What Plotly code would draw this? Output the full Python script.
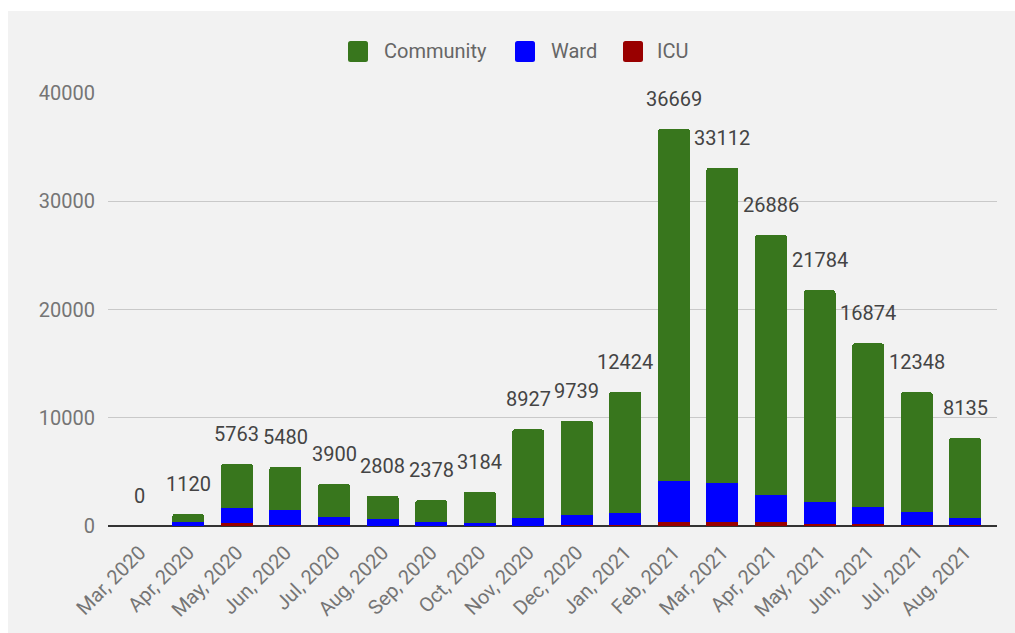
import plotly.graph_objects as go

# Monthly admissions split by care setting
months = ["Mar, 2020", "Apr, 2020", "May, 2020", "Jun, 2020", "Jul, 2020", "Aug, 2020",
          "Sep, 2020", "Oct, 2020", "Nov, 2020", "Dec, 2020", "Jan, 2021", "Feb, 2021",
          "Mar, 2021", "Apr, 2021", "May, 2021", "Jun, 2021", "Jul, 2021", "Aug, 2021"]
community = [0, 720, 4128, 4000, 3040, 2188, 1978, 2934, 8217, 8724, 11254, 32509,
             29112, 24021, 19539, 15089, 11028, 7425]
ward = [0, 360, 1385, 1400, 810, 580, 370, 230, 670, 955, 1090, 3760,
        3600, 2525, 2045, 1555, 1200, 650]
icu = [0, 40, 250, 80, 50, 40, 30, 20, 40, 60, 80, 400,
       400, 340, 200, 230, 120, 60]
y_ticks = [0, 10000, 20000, 30000, 40000]

totals = [c + w + i for c, w, i in zip(community, ward, icu)]

GREEN = "#38761d"
BLUE = "#0000ff"
RED = "#990000"
FONT = "Roboto"

# plot area in pixels
L, R, T, B = 108, 997, 93, 526
W, H = 1015, 633


def px_x(px):
    return (px - L) / (R - L)


def px_y(py):
    return (B - py) / (B - T)


fig = go.Figure()
for name, vals, color in [("ICU", icu, RED), ("Ward", ward, BLUE), ("Community", community, GREEN)]:
    fig.add_trace(go.Bar(x=months, y=vals, name=name, marker_color=color,
                         marker_line_width=0, width=0.66, showlegend=False))

annotations = []
for m, t in zip(months, totals):
    annotations.append(dict(x=m, y=t, text=str(t), showarrow=False, yshift=30,
                            font=dict(family=FONT, size=20, color="#444444")))

# legend drawn by hand: rounded swatches + labels
def rounded_rect(x0, y0, x1, y1, r):
    X = lambda p: px_x(p)
    Y = lambda p: px_y(p)
    return (f"M {X(x0 + r)},{Y(y0)} L {X(x1 - r)},{Y(y0)} Q {X(x1)},{Y(y0)} {X(x1)},{Y(y0 + r)} "
            f"L {X(x1)},{Y(y1 - r)} Q {X(x1)},{Y(y1)} {X(x1 - r)},{Y(y1)} "
            f"L {X(x0 + r)},{Y(y1)} Q {X(x0)},{Y(y1)} {X(x0)},{Y(y1 - r)} "
            f"L {X(x0)},{Y(y0 + r)} Q {X(x0)},{Y(y0)} {X(x0 + r)},{Y(y0)} Z")


shapes = [
    dict(type="rect", xref="paper", yref="paper", layer="below",
         x0=px_x(8), x1=px_x(W + 5), y0=px_y(H + 5), y1=px_y(11),
         fillcolor="#f2f2f2", line_width=0),
]
legend_items = [("Community", GREEN, 348, 382), ("Ward", BLUE, 515, 549), ("ICU", RED, 623, 655)]
for label, color, sx, tx in legend_items:
    shapes.append(dict(type="path", xref="paper", yref="paper",
                       path=rounded_rect(sx, 41, sx + 20, 62, 2.5),
                       fillcolor=color, line_width=0))
    annotations.append(dict(xref="paper", yref="paper", x=px_x(tx), y=px_y(51.5),
                            xanchor="left", yanchor="middle", showarrow=False, text=label,
                            font=dict(family=FONT, size=20, color="#666666")))

fig.update_layout(
    width=W, height=633,
    margin=dict(l=L, r=W - R, t=T, b=H - B, pad=0),
    barmode="stack",
    barcornerradius=3,
    paper_bgcolor="white",
    plot_bgcolor="#f2f2f2",
    font=dict(family=FONT, color="#757575"),
    shapes=shapes,
    annotations=annotations,
)
fig.update_xaxes(type="category", range=[-0.655, 17.655], tickangle=-45,
                 tickfont=dict(family=FONT, size=20, color="#757575"),
                 showgrid=False, showline=False, ticks="", ticklabelstandoff=10)
fig.update_yaxes(range=[0, 40000], tickvals=y_ticks, tickformat="d",
                 tickfont=dict(family=FONT, size=20, color="#757575"),
                 gridcolor="#c9c9c9", gridwidth=1,
                 zeroline=True, zerolinecolor="#333333", zerolinewidth=1.5,
                 showline=False, ticks="", ticklabelstandoff=12)

fig.write_html("out.html")
